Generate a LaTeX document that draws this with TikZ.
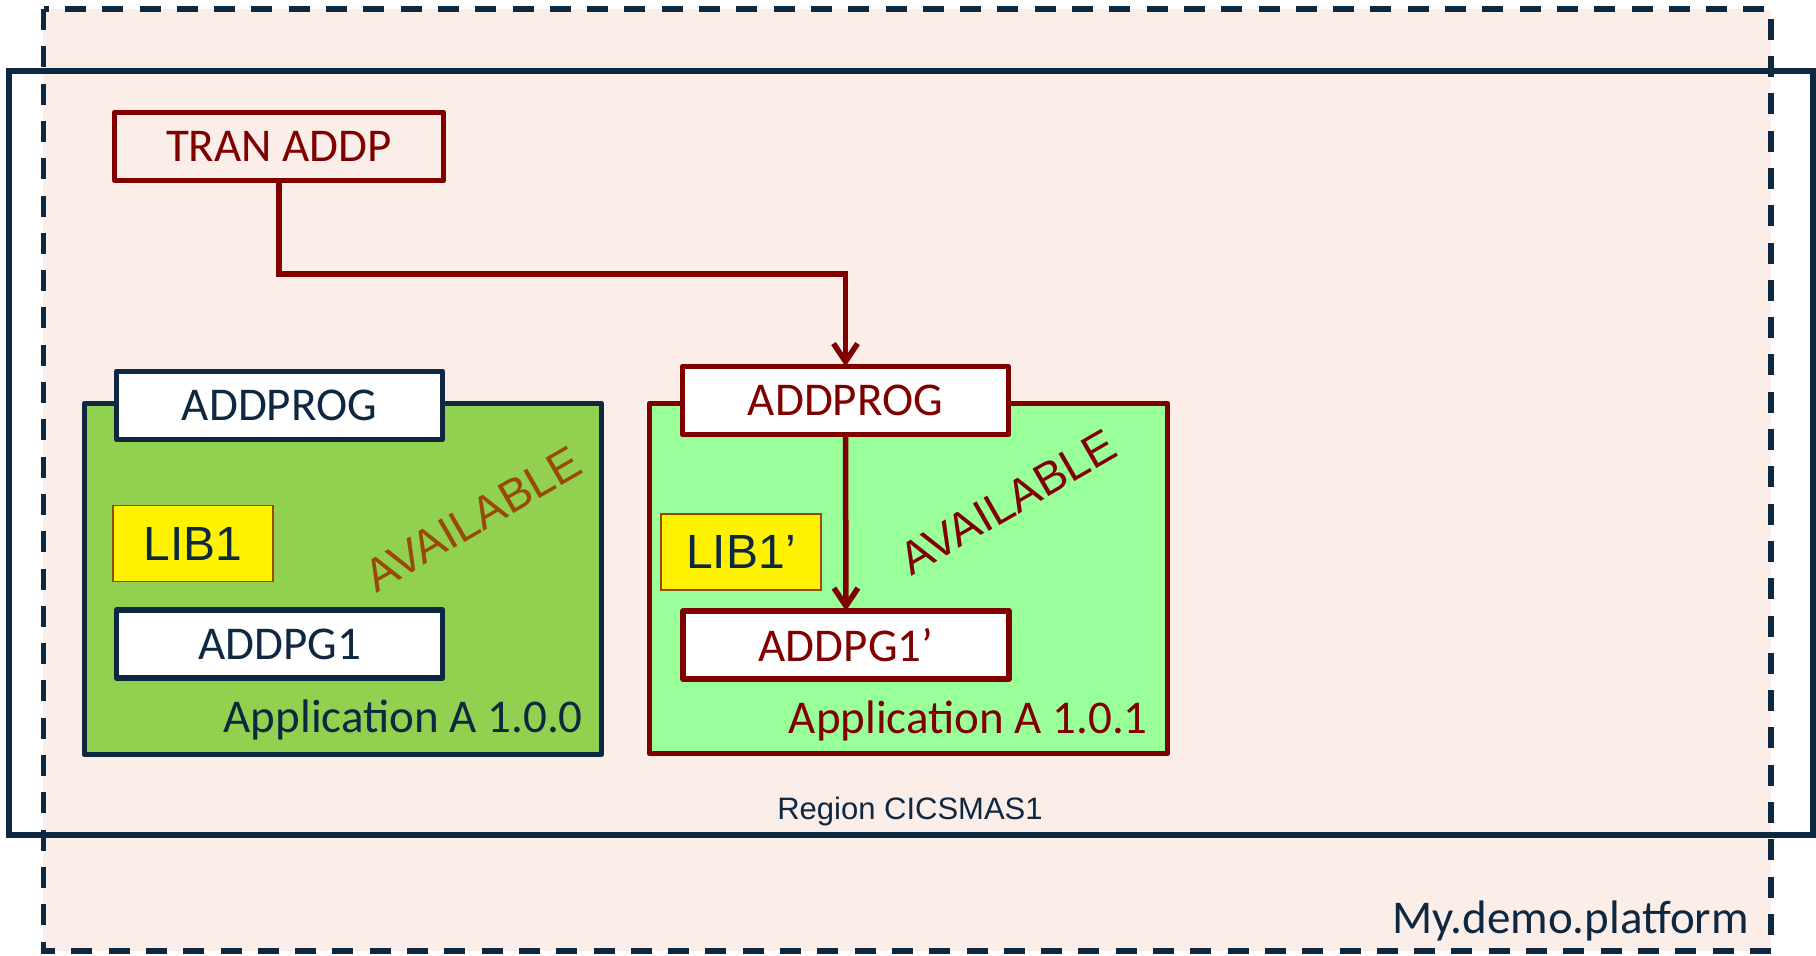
\documentclass[tikz,border=0pt]{standalone}
\usepackage{fontspec}
\setmainfont{Carlito}
\newfontfamily\arialf{Liberation Sans}
\usetikzlibrary{arrows.meta}
\definecolor{navy}{HTML}{0E2841}
\definecolor{dred}{HTML}{800000}
\definecolor{bgpink}{HTML}{FBEDE8}
\definecolor{gleft}{HTML}{92D050}
\definecolor{gright}{HTML}{99FF99}
\definecolor{availbrown}{HTML}{984807}
\tikzset{
  box/.style={draw, line width=5.6pt, inner sep=0pt, outer sep=0pt,
    minimum width=326pt, minimum height=68pt,
    font=\fontsize{47}{56}\selectfont, line join=round},
  navybox/.style={box, draw=navy, fill=white, text=navy},
  redbox/.style={box, draw=dred, fill=white, text=dred},
  libbox/.style={draw=availbrown, line width=1.5pt, fill=yellow,
    minimum width=160pt, minimum height=76pt, inner sep=0pt, outer sep=0pt,
    font=\arialf\fontsize{48}{56}\selectfont, text=navy},
  appbox/.style={line width=5.6pt, inner sep=0pt, outer sep=0pt, line join=round},
  avail/.style={font=\arialf\fontsize{46}{56}\selectfont, rotate=30, inner sep=0pt},
  label/.style={inner sep=0pt, font=\fontsize{47}{56}\selectfont},
  link/.style={draw=dred, line width=5.5pt, -{Straight Barb[length=18pt,width=24pt]}}
}
\begin{document}
\begin{tikzpicture}[x=1pt,y=-1pt]
\useasboundingbox (0,0) rectangle (1816,956);
% platform background
\fill[bgpink] (43,9) rectangle (1771,951);
% application boxes
\node[appbox, draw=navy, fill=gleft, minimum width=517pt, minimum height=351pt] (appA) at (343,579) {};
\node[appbox, draw=dred, fill=gright, minimum width=518pt, minimum height=350pt] (appB) at (908.5,578.5) {};
% left application content
\node[navybox] (progA) at (279.5,405.5) {ADDPROG};
\node[libbox] (libA) at (193,543.5) {LIB1};
\node[navybox] (pgA) at (279.5,644) {ADDPG1};
\node[avail, text=availbrown] (availA) at (473,519) {AVAILABLE};
\node[label, anchor=base east, text=navy] (verA) at (583,732) {Application A 1.0.0};
% right application content
\node[redbox] (progB) at (845.5,400.5) {ADDPROG};
\node[libbox] (libB) at (741,552) {LIB1’};
\node[redbox] (pgB) at (846,645) {ADDPG1’};
\node[avail, text=dred] (availB) at (1008,502) {AVAILABLE};
\node[label, anchor=base east, text=dred] (verB) at (1148,733) {Application A 1.0.1};
% transaction
\node[box, draw=dred, fill=bgpink, text=dred, minimum width=329pt] (tran) at (279,146.5) {TRAN ADDP};
\coordinate (bend) at (845.5,274);
\draw[link] (tran.south) |- (bend) -- (progB.north);
\draw[link] (progB.south) -- (pgB.north);
% region
\node[inner sep=0pt, anchor=base, font=\arialf\fontsize{31}{36}\selectfont, text=navy] (region) at (910,819) {Region CICSMAS1};
% platform outline
\draw[navy, line width=5.6pt, dash pattern=on 21pt off 16.3pt] (43.5,9) rectangle (1771,951);
\draw[navy, line width=5.6pt] (9,71) rectangle (1813,835);
\node[label, anchor=base east, text=navy] (platform) at (1749,933) {My.demo.platform};
\end{tikzpicture}
\end{document}
